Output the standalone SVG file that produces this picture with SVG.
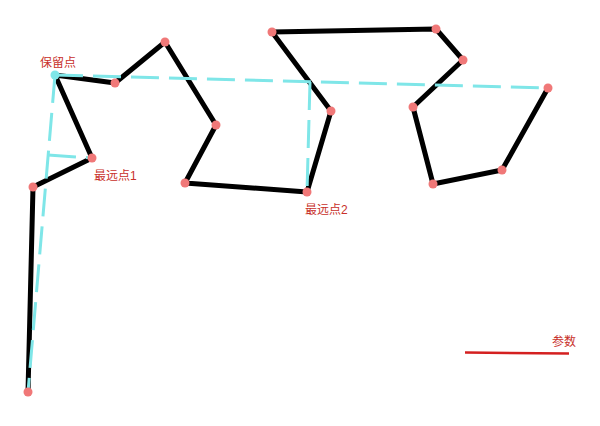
<svg xmlns="http://www.w3.org/2000/svg" width="600" height="426" viewBox="0 0 600 426">
<style>
.path{fill:none;stroke:#000;stroke-width:5;stroke-linejoin:round;stroke-linecap:round}
.dash{fill:none;stroke:#7fe6e8;stroke-width:3;stroke-dasharray:28 10}
.pt{fill:#f07878}
.lbl{font-family:"Liberation Sans","Noto Sans CJK SC",sans-serif;font-size:12px;fill:#c8302a}
</style>
<rect width="600" height="426" fill="#fff"/>
<g id="connectors">
<polyline class="path" points="28,392 33,187 92,158 55,75 115,83 165,42 216,125 185,183 307,192 331,111 272,32 436,29 463,60 413,107 433,184 502,170 548,88"/>
<line class="dash" x1="55" y1="75" x2="548" y2="88"/>
<line class="dash" x1="55" y1="75" x2="28" y2="392"/>
<line class="dash" x1="48" y1="155" x2="92" y2="158"/>
<line class="dash" x1="310" y1="82" x2="307" y2="192"/>
</g>
<g id="nodes">
<circle class="pt" cx="28" cy="392" r="4.5"/>
<circle class="pt" cx="33" cy="187" r="4.5"/>
<g id="far1"><circle class="pt" cx="92" cy="158" r="4.5"/><text class="lbl" x="94" y="180">最远点1</text></g>
<g id="keep"><circle cx="55" cy="75" r="4.5" fill="#7fe6e8"/><text class="lbl" x="40" y="67">保留点</text></g>
<circle class="pt" cx="115" cy="83" r="4.5"/>
<circle class="pt" cx="165" cy="42" r="4.5"/>
<circle class="pt" cx="216" cy="125" r="4.5"/>
<circle class="pt" cx="185" cy="183" r="4.5"/>
<g id="far2"><circle class="pt" cx="307" cy="192" r="4.5"/><text class="lbl" x="305" y="214">最远点2</text></g>
<circle class="pt" cx="331" cy="111" r="4.5"/>
<circle class="pt" cx="272" cy="32" r="4.5"/>
<circle class="pt" cx="436" cy="29" r="4.5"/>
<circle class="pt" cx="463" cy="60" r="4.5"/>
<circle class="pt" cx="413" cy="107" r="4.5"/>
<circle class="pt" cx="433" cy="184" r="4.5"/>
<circle class="pt" cx="502" cy="170" r="4.5"/>
<circle class="pt" cx="548" cy="88" r="4.5"/>
</g>
<g id="param">
<line x1="465" y1="352.5" x2="569" y2="353.5" stroke="#d42020" stroke-width="2.5"/>
<text class="lbl" x="552" y="346">参数</text>
</g>
</svg>
